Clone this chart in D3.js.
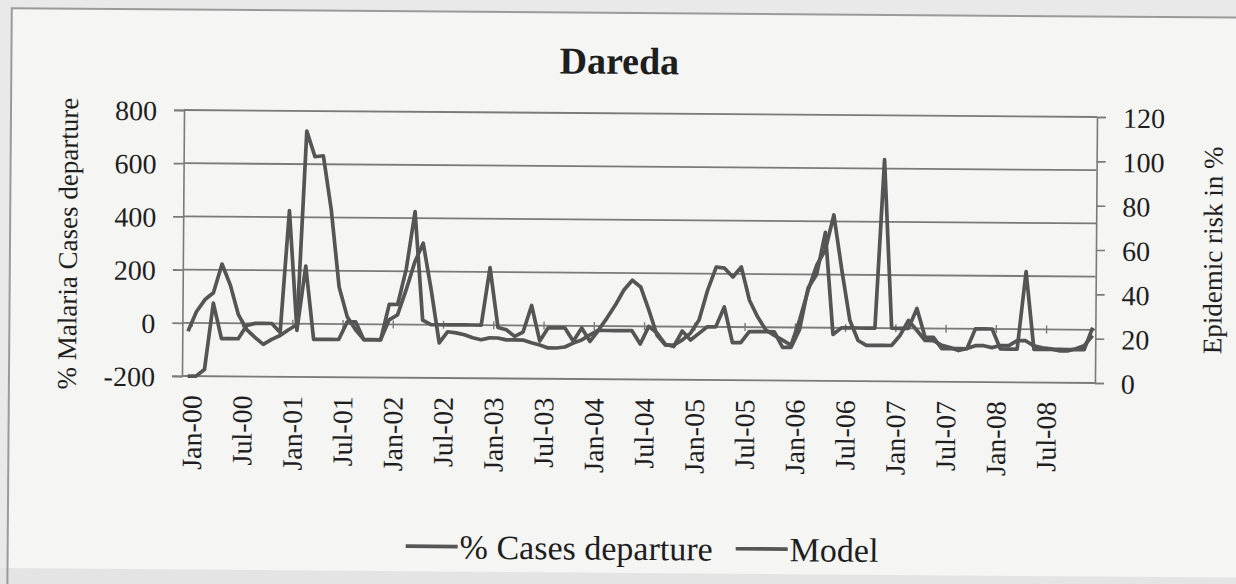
<!DOCTYPE html>
<html>
<head>
<meta charset="utf-8">
<script src="https://cdn.jsdelivr.net/npm/d3@7"></script>
<style>
html, body { margin: 0; padding: 0; background: #e9e9e9; }
svg { display: block; }
text { font-family: "Liberation Serif", "Times New Roman", serif; fill: #1e1e1e; }
</style>
</head>
<body>
<div id="vis"></div>
<script>
// monthly values, Jan-00 .. Jan-09
const firstMonth = new Date(2000, 0, 1)
const lastMonth = new Date(2009, 0, 1)

const casesDeparture = [-32, 43, 88, 114, 222, 144, 32, -24, -53, -79, -60, -45, -23, -4,
    724, 628, 632, 427, 139, 27, -21, -58, -58, -58,
    17, 36, 130, 234, 306, 130,
    -68, -26, -30, -37, -48, -55, -48, -48, -55, -55, -55, -65,
    -73, -84, -84, -80, -65, -53, -34, -15,
    30, 79, 136, 173, 148, 61, -33, -70, -70, -51,
    -24, 25, 138, 225, 221, 188, 226, 101, 38, -11, -30, -48,
    -67, 28, 141, 235, 292, 424, 217, 29, -47, -65, -65, -65,
    -65, -27, 30, -7, -45, -45, -63, -71, -82, -74, -63, -63,
    -70, -62, -62, -43, -43, -62, -69, -73, -80, -80, -72, -60, -22]

const model = [0, 0, 3, 33, 17, 17, 17, 23, 24, 24, 24, 20,
    75, 21, 50, 17, 17, 17, 17, 25, 25, 17, 17, 17,
    33, 33, 49, 75, 26, 24, 24, 24, 24, 24, 24, 24,
    50, 23, 22, 19, 21, 33, 17, 23, 23, 23, 17, 23,
    17, 22, 22, 22, 22, 22, 16, 24, 21, 16, 15, 22,
    18, 21, 24, 24, 33, 17, 17, 22, 22, 22, 22, 15,
    15, 23, 42, 48, 67, 21, 24, 24, 24, 24, 24, 100,
    24, 24, 24, 33, 20, 20, 15, 15, 15, 15, 24, 24,
    24, 15, 15, 15, 50, 15, 15, 15, 15, 15, 15, 15, 25]

const leftTicks = [-200, 0, 200, 400, 600, 800]
const rightTicks = [0, 20, 40, 60, 80, 100, 120]
const tickLabels = ['Jan-00', 'Jul-00', 'Jan-01', 'Jul-01', 'Jan-02', 'Jul-02', 'Jan-03', 'Jul-03',
    'Jan-04', 'Jul-04', 'Jan-05', 'Jul-05', 'Jan-06', 'Jul-06', 'Jan-07', 'Jul-07', 'Jan-08', 'Jul-08']
const legendNames = ['% Cases departure', 'Model']

const W = 1236, H = 584
const plot = {left: 183, right: 1096, top: 113.5, bottom: 379.5}
const lineColor = '#555'
const gridColor = '#7a7a7a'

const months = d3.timeMonth.range(firstMonth, d3.timeMonth.offset(lastMonth, 1))

const svg = d3.select('#vis').append('svg')
    .attr('width', W)
    .attr('height', H)

// scanned page, slightly tilted
const page = svg.append('g')
    .attr('transform', 'rotate(0.44, 640, 245)')

page.append('rect')
    .attr('x', 10).attr('y', 13)
    .attr('width', 1300).attr('height', 620)
    .attr('fill', '#f5f5f4')

// darker strip at the foot of the scan
page.append('rect')
    .attr('x', 0).attr('y', 573)
    .attr('width', 1300).attr('height', 40)
    .attr('fill', '#e4e4e4')

page.append('rect')
    .attr('x', 10).attr('y', 13)
    .attr('width', 1300).attr('height', 620)
    .attr('fill', 'none')
    .attr('stroke', '#9a9a9a')
    .attr('stroke-width', 2)

let x = d3.scaleBand()
    .domain(d3.range(months.length))
    .range([plot.left + 1.5, plot.right + 1.5])
const xc = i => x(i) + x.bandwidth() / 2

let yLeft = d3.scaleLinear([-200, 800], [plot.bottom, plot.top])
let yRight = d3.scaleLinear([0, 120], [plot.bottom, plot.top])

// gridlines + left axis
let leftAxis = page.append('g')
    .attr('class', 'left-axis')
    .attr('transform', `translate(${plot.left},0)`)
    .call(d3.axisLeft(yLeft).tickValues(leftTicks).tickSize(10).tickPadding(17).tickFormat(d => String(d)))
leftAxis.select('.domain').attr('stroke', gridColor).attr('stroke-width', 1.6)
leftAxis.selectAll('.tick line').attr('stroke', gridColor).attr('stroke-width', 1.8)
leftAxis.selectAll('.tick text')
    .style('font-size', '28px')
    .attr('fill', '#1e1e1e')
    .attr('dy', '0.36em')

page.append('g')
    .attr('class', 'grid')
    .selectAll('line')
    .data(leftTicks)
    .join('line')
        .attr('x1', plot.left)
        .attr('x2', plot.right)
        .attr('y1', d => yLeft(d))
        .attr('y2', d => yLeft(d))
        .attr('stroke', gridColor)
        .attr('stroke-width', 1.8)

// right axis
let rightAxis = page.append('g')
    .attr('class', 'right-axis')
    .attr('transform', `translate(${plot.right},0)`)
    .call(d3.axisRight(yRight).tickValues(rightTicks).tickSize(9).tickPadding(17))
rightAxis.select('.domain').attr('stroke', gridColor).attr('stroke-width', 1.6)
rightAxis.selectAll('.tick line').attr('stroke', gridColor).attr('stroke-width', 1.6)
rightAxis.selectAll('.tick text')
    .style('font-size', '28px')
    .attr('fill', '#1e1e1e')
    .attr('dy', '0.36em')

// category axis crosses at 0, ticks every six months
let tickIdx = d3.range(0, tickLabels.length * 6, 6)
let catAxis = page.append('g')
    .attr('class', 'cat-axis')
    .attr('transform', `translate(0,${yLeft(0)})`)
    .call(d3.axisBottom(x).tickValues(tickIdx).tickSize(4).tickFormat(''))
catAxis.select('.domain').remove()
catAxis.selectAll('.tick line')
    .attr('stroke', gridColor)
    .attr('stroke-width', 1.4)
    .attr('y1', -4)
    .attr('transform', `translate(${x.bandwidth() / 2},0)`)

page.append('g')
    .attr('class', 'x-labels')
    .selectAll('text')
    .data(tickLabels)
    .join('text')
        .attr('transform', (d, i) => `translate(${xc(i * 6) + x.bandwidth() / 2},${plot.bottom + 19}) rotate(-90)`)
        .attr('text-anchor', 'end')
        .attr('dy', '0.35em')
        .style('font-size', '28px')
        .text(d => d)

// series
let lineLeft = d3.line().x((d, i) => xc(i)).y(d => yLeft(d))
let lineRight = d3.line().x((d, i) => xc(i)).y(d => yRight(d))

page.append('path')
    .datum(casesDeparture)
    .attr('d', lineLeft)
    .attr('fill', 'none')
    .attr('stroke', lineColor)
    .attr('stroke-width', 3.7)
    .attr('stroke-linejoin', 'round')

page.append('path')
    .datum(model)
    .attr('d', lineRight)
    .attr('fill', 'none')
    .attr('stroke', lineColor)
    .attr('stroke-width', 3.7)
    .attr('stroke-linejoin', 'round')

// titles
page.append('text')
    .attr('x', 618).attr('y', 74)
    .attr('text-anchor', 'middle')
    .style('font-size', '38px')
    .style('font-weight', 'bold')
    .text('Dareda')

page.append('text')
    .attr('transform', 'translate(77,248) rotate(-90)')
    .attr('text-anchor', 'middle')
    .style('font-size', '27px')
    .text('% Malaria Cases departure')

page.append('text')
    .attr('transform', 'translate(1222,246) rotate(-90)')
    .attr('text-anchor', 'middle')
    .style('font-size', '27px')
    .text('Epidemic risk in %')

// legend
let legend = page.append('g').attr('class', 'legend')
let legendX = [408, 738]
legendNames.forEach((name, i) => {
    legend.append('line')
        .attr('x1', legendX[i]).attr('x2', legendX[i] + 52)
        .attr('y1', 548).attr('y2', 548)
        .attr('stroke', lineColor)
        .attr('stroke-width', 3.7)
    legend.append('text')
        .attr('x', legendX[i] + 54).attr('y', 560)
        .style('font-size', '34px')
        .text(name)
})
</script>
</body>
</html>
